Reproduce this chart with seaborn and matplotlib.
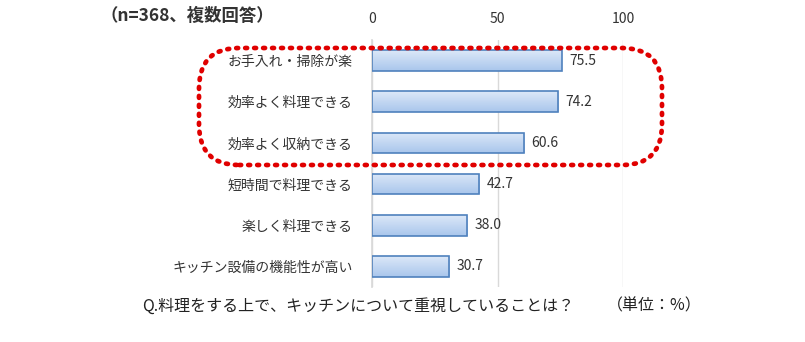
import numpy as np
import pandas as pd
import matplotlib
matplotlib.use("Agg")
import matplotlib.pyplot as plt
import seaborn as sns
from matplotlib.patches import FancyBboxPatch
from matplotlib.colors import LinearSegmentedColormap

categories = ["お手入れ・掃除が楽", "効率よく料理できる", "効率よく収納できる",
              "短時間で料理できる", "楽しく料理できる", "キッチン設備の機能性が高い"]
values = [75.5, 74.2, 60.6, 42.7, 38.0, 30.7]
x_ticks = [0, 50, 100]

sns.set_theme(style="white")
plt.rcParams['font.family'] = ['Noto Sans CJK JP', 'DejaVu Sans']

fig = plt.figure(figsize=(8.05, 3.42), dpi=100)
ax = fig.add_axes([372/805, 1-287/342, (623-372)/805, (287-40)/342])

df = pd.DataFrame({"cat": categories, "val": values})
sns.barplot(data=df, x="val", y="cat", orient="h", ax=ax, width=0.5,
            color="#BDD3EE", edgecolor="#4F81BD", linewidth=1.2, saturation=1)

cmap = LinearSegmentedColormap.from_list("g", ["#DCE8F8", "#A9C6EC"])
grad = np.linspace(0, 1, 64).reshape(-1, 1)
for p in ax.patches:
    x0, y0 = p.get_x(), p.get_y()
    w, h = p.get_width(), p.get_height()
    im = ax.imshow(grad, cmap=cmap, aspect="auto",
                   extent=[x0, x0 + w, y0 + h, y0], origin="upper", zorder=p.get_zorder()-0.1)
    im.set_clip_path(p)
    p.set_facecolor("none")
    p.set_zorder(3)

for i, v in enumerate(values):
    ax.text(v + 3, i, f"{v:.1f}", va="center", ha="left", fontsize=10, color="#333333")

ax.set_xlim(0, 100)
ax.set_ylim(5.5, -0.5)
ax.set_xticks(x_ticks)
ax.xaxis.tick_top()
ax.tick_params(axis="x", length=0, labelsize=10, pad=10, colors="#333333")
ax.tick_params(axis="y", length=0, labelsize=10, pad=14, colors="#333333")
ax.set_xlabel("")
ax.set_ylabel("")
ax.grid(axis="x", color="#D9D9D9", linewidth=1)
ax.set_axisbelow(True)
for s in ["top", "right", "bottom"]:
    ax.spines[s].set_visible(False)
ax.spines["left"].set_color("#D9D9D9")

# red dotted rounded box
box = FancyBboxPatch((199/805, 1-165/342), (662-199)/805, (165-48)/342,
                     boxstyle="round,pad=0,rounding_size=0.05",
                     transform=fig.transFigure, fill=False, edgecolor="#E00000",
                     linewidth=3.4, linestyle=(0, (0.4, 1.5)), capstyle="round",
                     mutation_aspect=805/342, zorder=10)
fig.patches.append(box)

fig.text(100/805, 1-16/342, "（n=368、複数回答）", fontsize=12.5, fontweight="bold",
         va="center", ha="left", color="#333333")
fig.text(142/805, 1-306/342, "Q.料理をする上で、キッチンについて重視していることは？",
         fontsize=11.5, va="center", ha="left", color="#222222")
fig.text(607/805, 1-306/342, "（単位：%）",
         fontsize=11.5, va="center", ha="left", color="#222222")

fig.savefig("out.png", dpi=100)
